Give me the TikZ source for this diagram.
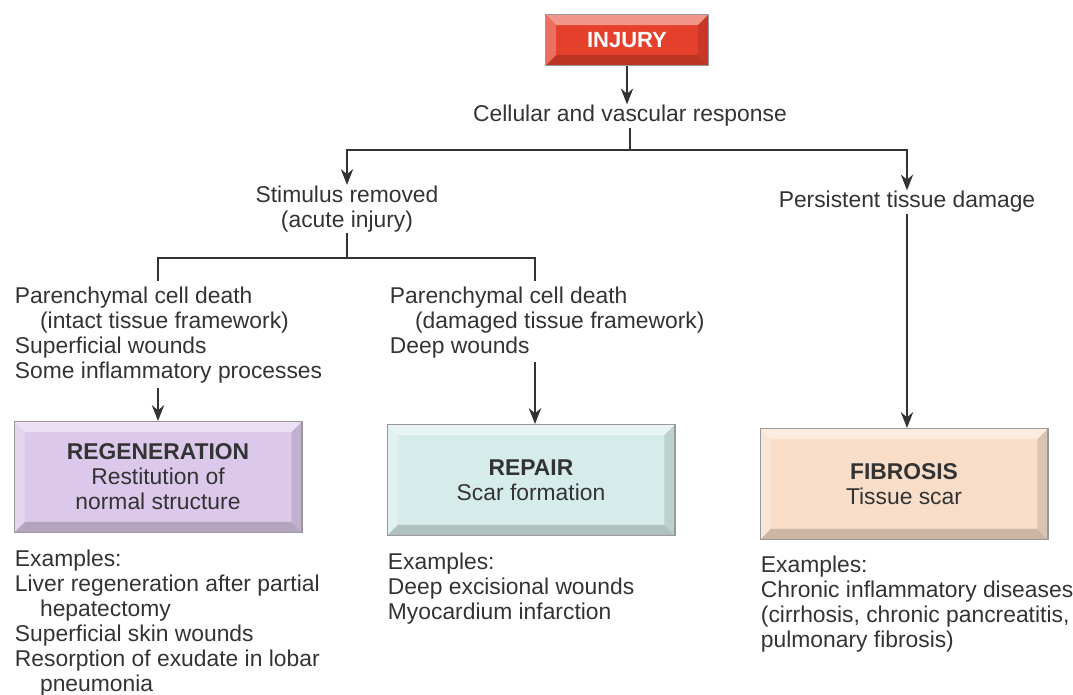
\documentclass[tikz,border=0pt]{standalone}
\usepackage{fontspec}
\setmainfont{Liberation Sans}
\usetikzlibrary{arrows.meta}

\definecolor{injuryred}{HTML}{E5402C}
\definecolor{regencol}{HTML}{DCC8EA}
\definecolor{repaircol}{HTML}{D6ECEA}
\definecolor{fibrocol}{HTML}{F8DEC8}
\definecolor{ink}{HTML}{333333}

\tikzset{
  txt/.style={font=\fontsize{13}{14.2}\selectfont,text=ink,inner sep=0pt},
  block/.style={txt,align=left,anchor=north west},
  bevel/.style={fill=#1,draw=black!40,line width=0.6pt,
    path picture={
      \coordinate (pa) at (path picture bounding box.south west);
      \coordinate (pb) at (path picture bounding box.south east);
      \coordinate (pc) at (path picture bounding box.north east);
      \coordinate (pd) at (path picture bounding box.north west);
      \fill[#1!82!black] (pa) -- (pb) -- ([shift={(-6pt,6pt)}]pb) -- ([shift={(6pt,6pt)}]pa) -- cycle;
      \fill[#1!88!black] (pb) -- (pc) -- ([shift={(-6pt,-6pt)}]pc) -- ([shift={(-6pt,6pt)}]pb) -- cycle;
      \fill[#1!55!white] (pd) -- (pc) -- ([shift={(-6pt,-6pt)}]pc) -- ([shift={(6pt,-6pt)}]pd) -- cycle;
      \fill[#1!75!white] (pa) -- (pd) -- ([shift={(6pt,-6pt)}]pd) -- ([shift={(6pt,6pt)}]pa) -- cycle;
    }},
  outcome/.style={bevel=#1,txt,align=center,minimum width=5.76cm,minimum height=2.22cm},
}

\begin{document}
\begin{tikzpicture}[x=0.02cm,y=-0.02cm,>={Stealth[length=9pt,width=7pt]},
    line width=1.1pt,draw=ink]
    \useasboundingbox (0,0) rectangle (1073,695);

    % top of the chart
    \node[bevel=injuryred,minimum width=3.26cm,minimum height=1.02cm,
      text=white,font=\fontsize{12.5}{14}\selectfont\bfseries] at (627,40) (injury) {INJURY};
    \node[txt] at (630,116) (cellular) {Cellular and vascular response};
    \node[txt,align=center] at (347,209) (stimulus) {Stimulus removed\\(acute injury)};
    \node[txt] at (907,202) (persistent) {Persistent tissue damage};
    \coordinate (split1) at (630,150);
    \coordinate (split2) at (347,258);

    % causes
    \node[block] at (14,286) (intact) {Parenchymal cell death\\
      \hspace*{1.1em}(intact tissue framework)\\Superficial wounds\\Some inflammatory processes};
    \node[block] at (389,286) (damaged) {Parenchymal cell death\\
      \hspace*{1.1em}(damaged tissue framework)\\Deep wounds};
    \coordinate (lt) at (158,281);
    \coordinate (mt) at (535,281);
    \coordinate (lb) at (158,388);
    \coordinate (mb) at (535,362);

    % outcomes
    \node[outcome=regencol] at (158,477) (regen) {\textbf{REGENERATION}\\Restitution of\\normal structure};
    \node[outcome=repaircol] at (531,480) (repair) {\textbf{REPAIR}\\Scar formation};
    \node[outcome=fibrocol] at (904,484) (fibro) {\textbf{FIBROSIS}\\Tissue scar};

    % examples
    \node[block] at (14,549) (regenex) {Examples:\\Liver regeneration after partial\\
      \hspace*{1.1em}hepatectomy\\Superficial skin wounds\\Resorption of exudate in lobar\\
      \hspace*{1.1em}pneumonia};
    \node[block] at (387,552) (repairex) {Examples:\\Deep excisional wounds\\Myocardium infarction};
    \node[block] at (760,555) (fibroex) {Examples:\\Chronic inflammatory diseases\\
      (cirrhosis, chronic pancreatitis,\\pulmonary fibrosis)};

    % connectors
    \draw[->] (injury) -- (injury |- cellular.north);
    \draw (cellular) -- (split1);
    \draw[->] (split1) -| (stimulus);
    \draw[->] (split1) -| (persistent);
    \draw (stimulus) -- (split2);
    \draw (split2) -| (lt);
    \draw (split2) -| (mt);
    \draw[->] (lb) -- (lb |- regen.north);
    \draw[->] (mb) -- (mb |- repair.north);
    \draw[->] (persistent) -- (persistent |- fibro.north);
\end{tikzpicture}
\end{document}
